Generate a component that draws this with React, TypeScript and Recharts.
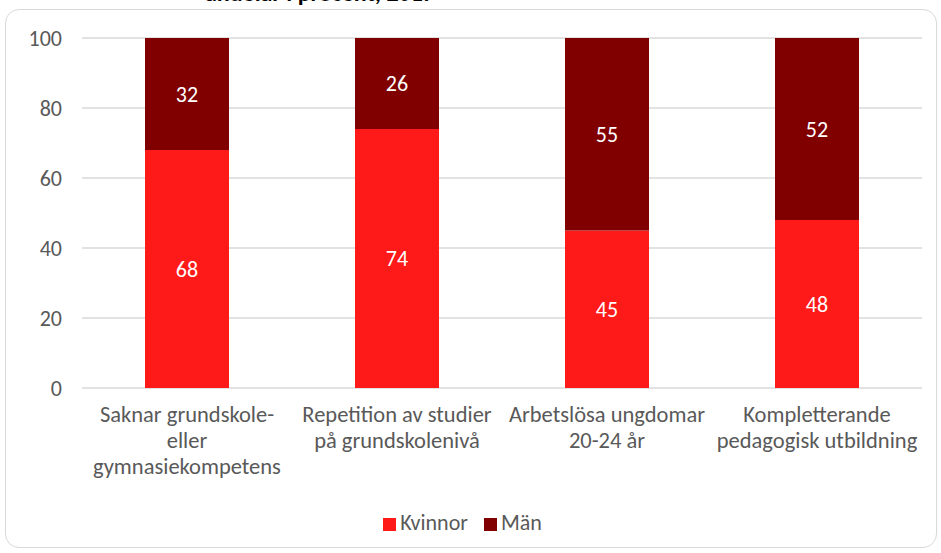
import React from 'react'
import { BarChart, Bar, XAxis, YAxis, CartesianGrid, Legend, LabelList } from 'recharts'

const CATEGORIES = [
  ['Saknar grundskole-', 'eller', 'gymnasiekompetens'],
  ['Repetition av studier', 'på grundskolenivå'],
  ['Arbetslösa ungdomar', '20-24 år'],
  ['Kompletterande', 'pedagogisk utbildning'],
]
const KVINNOR = [68, 74, 45, 48]
const MAN = [32, 26, 55, 52]
const Y_TICKS = [0, 20, 40, 60, 80, 100]

const FONT = 'Carlito, Calibri, Lato, sans-serif'
const TEXT = '#595959'

const data = CATEGORIES.map((lines, i) => ({
  name: lines.join(' '),
  lines,
  kvinnor: KVINNOR[i],
  man: MAN[i],
}))

function CategoryTick({ x, y, payload }: any) {
  const row = data.find(d => d.name === payload.value)
  const lines = row ? row.lines : [payload.value]
  return (
    <text x={x} y={y} textAnchor="middle" fill={TEXT} fontSize={22.5} fontFamily={FONT}>
      {lines.map((l: string, i: number) => (
        <tspan key={i} x={x} dy={26}>{l}</tspan>
      ))}
    </text>
  )
}

export default function App() {
  return (
    <div style={{ position: 'absolute', left: 0, top: 0, width: 941, height: 553, background: '#fff', overflow: 'hidden' }}>
      <div style={{ position: 'absolute', left: 0, width: 640, top: -22, textAlign: 'center', fontFamily: FONT, fontWeight: 'bold', fontSize: 24, color: '#000' }}>
        andelar i procent, 2017
      </div>
      <div style={{ position: 'absolute', left: 5, top: 9, width: 932, height: 539, border: '1px solid #d9d9d9', borderRadius: 14, boxSizing: 'border-box' }} />
      <div style={{ position: 'absolute', left: 0, top: 0 }}>
        <BarChart
          width={941}
          height={553}
          data={data}
          barCategoryGap="30%"
          margin={{ top: 38, right: 19, left: 0, bottom: 0 }}
        >
          <CartesianGrid stroke="#d9d9d9" strokeWidth={1.5} vertical={false} />
          <XAxis
            dataKey="name"
            axisLine={false}
            tickLine={false}
            interval={0}
            tick={<CategoryTick />}
            height={138}
          />
          <YAxis
            domain={[0, 100]}
            ticks={Y_TICKS}
            axisLine={false}
            tickLine={false}
            width={82}
            tickMargin={14}
            tick={{ fontSize: 22, fill: TEXT, fontFamily: FONT }}
          />
          <Legend
            iconType="square"
            iconSize={13}
            wrapperStyle={{ position: 'absolute', top: 509, left: 0, width: 941, fontFamily: FONT, fontSize: 22 }}
            formatter={(v) => <span style={{ color: TEXT, marginRight: 6 }}>{v}</span>}
          />
          <Bar dataKey="kvinnor" name="Kvinnor" stackId="a" fill="#FF1A1A" isAnimationActive={false}>
            <LabelList dataKey="kvinnor" position="center" fill="#fff" fontSize={22} fontFamily={FONT} />
          </Bar>
          <Bar dataKey="man" name="Män" stackId="a" fill="#800000" isAnimationActive={false}>
            <LabelList dataKey="man" position="center" fill="#fff" fontSize={22} fontFamily={FONT} />
          </Bar>
        </BarChart>
      </div>
    </div>
  )
}
